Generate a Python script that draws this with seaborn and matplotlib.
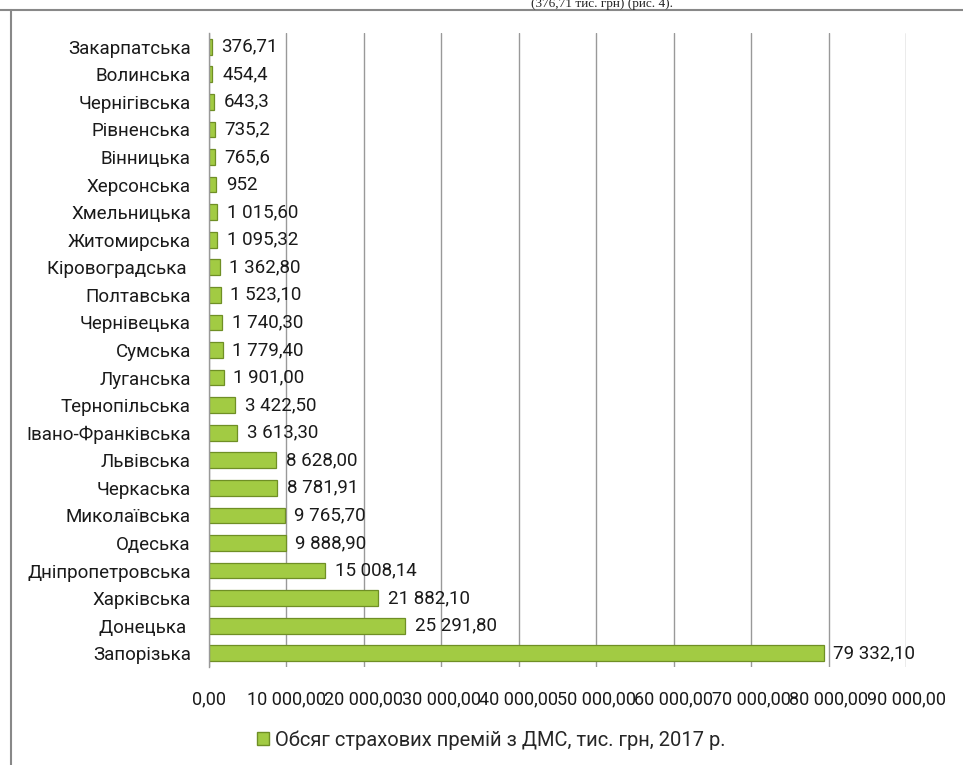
import matplotlib
matplotlib.use("Agg")
import matplotlib.pyplot as plt
import seaborn as sns
import pandas as pd
from matplotlib.lines import Line2D

sns.set_theme(style="white")
plt.rcParams['font.family'] = ['Roboto', 'DejaVu Sans']

# дані (зверху вниз, як на діаграмі)
regions = ['Закарпатська', 'Волинська', 'Чернігівська', 'Рівненська', 'Вінницька',
           'Херсонська', 'Хмельницька', 'Житомирська', 'Кіровоградська ', 'Полтавська',
           'Чернівецька', 'Сумська', 'Луганська', 'Тернопільська', 'Івано-Франківська',
           'Львівська', 'Черкаська', 'Миколаївська', 'Одеська', 'Дніпропетровська',
           'Харківська', 'Донецька ', 'Запорізька']
premiums = [376.71, 454.4, 643.3, 735.2, 765.6, 952, 1015.60, 1095.32, 1362.80, 1523.10,
            1740.30, 1779.40, 1901.00, 3422.50, 3613.30, 8628.00, 8781.91, 9765.70,
            9888.90, 15008.14, 21882.10, 25291.80, 79332.10]
value_labels = ['376,71', '454,4', '643,3', '735,2', '765,6', '952', '1 015,60', '1 095,32',
                '1 362,80', '1 523,10', '1 740,30', '1 779,40', '1 901,00', '3 422,50',
                '3 613,30', '8 628,00', '8 781,91', '9 765,70', '9 888,90', '15 008,14',
                '21 882,10', '25 291,80', '79 332,10']
xticks = [0, 10000, 20000, 30000, 40000, 50000, 60000, 70000, 80000, 90000]
xtick_labels = ['0,00', '10 000,00', '20 000,00', '30 000,00', '40 000,00', '50 000,00',
                '60 000,00', '70 000,00', '80 000,00', '90 000,00']
legend_label = 'Обсяг страхових премій з ДМС, тис. грн, 2017 р.'

df = pd.DataFrame({'region': regions, 'value': premiums})

fig = plt.figure(figsize=(9.63, 7.65), dpi=100)
ax = fig.add_axes([0.217, 0.128, 0.724, 0.829])

sns.barplot(data=df, x='value', y='region', orient='h', color='#A2CB43',
            edgecolor='#6F8F25', linewidth=0.9, width=0.57, saturation=1, ax=ax)

ax.bar_label(ax.containers[0], labels=value_labels, padding=7, fontsize=13.5, color='#1a1a1a')

ax.set_xlim(0, 90000)
ax.set_xticks(xticks)
ax.set_xticklabels(xtick_labels, fontsize=13)
ax.set_xlabel('')
ax.set_ylabel('')
ax.tick_params(axis='y', length=0, pad=13, labelsize=13.5, labelcolor='#1a1a1a')
ax.tick_params(axis='x', length=0, pad=17, labelcolor='#1a1a1a')

ax.grid(axis='x', color='#999999', linewidth=1)
ax.set_axisbelow(True)
for s in ['top', 'right', 'bottom']:
    ax.spines[s].set_visible(False)
ax.spines['left'].set_color('#999999')
ax.spines['left'].set_linewidth(1)

# легенда
handle = plt.Rectangle((0, 0), 1, 1, facecolor='#A2CB43', edgecolor='#6F8F25')
fig.legend([handle], [legend_label], loc='center', bbox_to_anchor=(0.51, 0.033),
           frameon=False, fontsize=14.5, handlelength=0.6, handleheight=0.6,
           handletextpad=0.3)

# рамка та текст зверху
fig.add_artist(Line2D([0, 1], [0.987, 0.987], color='#888888', linewidth=1.5))
fig.add_artist(Line2D([0.0115, 0.0115], [0, 0.987], color='#888888', linewidth=1.5))
fig.text(0.625, 0.9905, '(376,71 тис. грн) (рис. 4).', ha='center', va='baseline',
         fontsize=9.5, family=['Liberation Serif', 'DejaVu Serif'])

fig.savefig('out.png', dpi=100)
